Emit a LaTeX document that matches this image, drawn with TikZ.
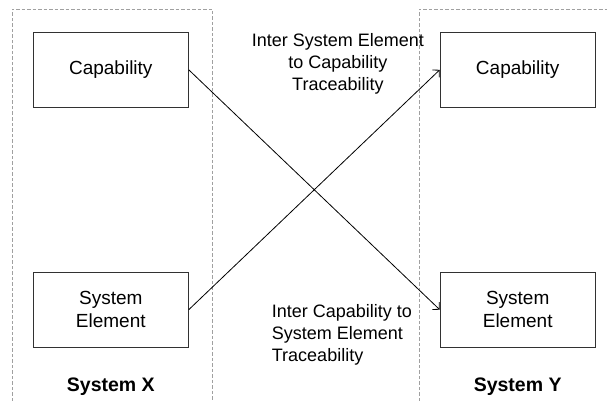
\documentclass[tikz,border=0pt]{standalone}
\usepackage{fontspec}
\setmainfont{Liberation Sans}
\usetikzlibrary{arrows.meta, positioning}
\definecolor{frame}{RGB}{160,160,160}
\definecolor{edge}{RGB}{50,50,50}

\begin{document}
\begin{tikzpicture}[
          x=1pt, y=-1pt,
          block/.style={rectangle, draw=edge, line width=0.9pt, fill=white,
                        minimum width=155pt, minimum height=75pt,
                        font=\fontsize{19}{23.2}\selectfont, align=center},
          sysframe/.style={draw=frame, line width=0.7pt, dash pattern=on 3.5pt off 2pt},
          sysname/.style={font=\fontsize{19.5}{23}\selectfont\bfseries, inner sep=0pt},
          note/.style={font=\fontsize{18}{22}\selectfont, inner sep=0pt},
          arr/.style={-{Straight Barb[length=5pt,width=10pt]}, line width=0.8pt, draw=black}
        ]
        \useasboundingbox (0,0) rectangle (607,401);
        % dashed system frames, open at the bottom
        \draw[sysframe] (12,401) -- (12,9) -- (212,9) -- (212,401);
        \draw[sysframe] (419,401) -- (419,9) -- (607,9);
        % system X
        \node[block] (capX) at (110.8,69.8) {Capability};
        \node[block, below=164pt of capX] (elemX) {System\\Element};
        \node[sysname, below=39pt of elemX, anchor=center] (sysX) {System X};
        % system Y
        \node[block, right=251pt of capX] (capY) {Capability};
        \node[block, right=251pt of elemX] (elemY) {System\\Element};
        \node[sysname, below=39pt of elemY, anchor=center] (sysY) {System Y};
        % traceability links
        \draw[arr] (capX.east) -- (elemY.west);
        \draw[arr] (elemX.east) -- (capY.west);
        \node[note, align=center] (upNote) at (337.9,63.8) {Inter System Element\\to Capability\\Traceability};
        \node[note, align=left, anchor=west] (downNote) at (271.7,334.5) {Inter Capability to\\System Element\\Traceability};
      \end{tikzpicture}
\end{document}
